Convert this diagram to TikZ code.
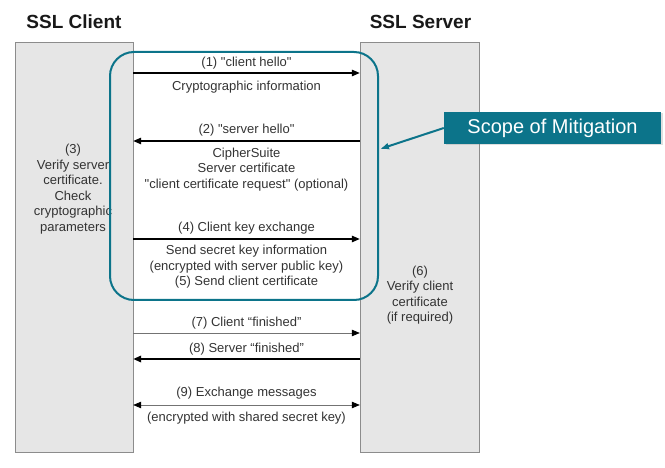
\documentclass[tikz,border=0pt]{standalone}
\usepackage{fontspec}
\setmainfont{Liberation Sans}
\usetikzlibrary{arrows.meta,positioning,calc,shadows}
\definecolor{mitteal}{RGB}{12,116,138}
\definecolor{lanegray}{RGB}{230,230,230}
\tikzset{
  lane/.style     ={draw=black!45,fill=lanegray,inner sep=0pt,minimum width=118pt,minimum height=410pt},
  title/.style    ={font=\fontsize{19}{22}\selectfont\bfseries,text=black!90},
  lbl/.style      ={font=\fontsize{13}{15.5}\selectfont,text=black!80,align=center,inner sep=0pt},
  msg/.style      ={-{Triangle[length=8pt,width=6.5pt]},line width=1.2pt},
  thinmsg/.style  ={-{Triangle[length=8pt,width=6.5pt,fill=black,color=black]},line width=0.7pt,draw=black!55},
  scopebox/.style ={draw=mitteal,line width=2pt,rounded corners=24pt,minimum width=268pt,minimum height=248pt},
  callout/.style  ={fill=mitteal,text=white,font=\fontsize{20}{24}\selectfont,minimum width=217pt,minimum height=32pt,
                    drop shadow={opacity=0.25,shadow xshift=1.5pt,shadow yshift=-1.5pt}},
  pointer/.style  ={-{Latex[length=9pt,width=7pt]},line width=2pt,draw=mitteal}
}
\begin{document}
\begin{tikzpicture}[x=1pt,y=-1pt]
  \useasboundingbox (0,0) rectangle (665,468);
  % lifelines
  \node[title] (ctitle) at (74,22)    {SSL Client};
  \node[title] (stitle) at (420.5,22) {SSL Server};
  \node[lane] (client) at (74,247) {};
  \node[lane,minimum width=119pt] (server) at (419.5,247) {};
  \node[lbl] (verifysrv) at (73,189)
    {(3)\\Verify server\\certificate.\\Check\\cryptographic\\parameters};
  \node[lbl] (verifycli) at (420,295)
    {(6)\\Verify client\\certificate\\(if required)};
  % message rows
  \foreach \n/\y in {1/73,2/141,4/239,7/333,8/359,9/405}
    \coordinate (r\n) at (0,\y);
  \node[lbl] (m1)  at (246.5,63)  {(1) \textquotedbl client hello\textquotedbl};
  \node[lbl] (m1b) at (246.5,87)  {Cryptographic information};
  \node[lbl] (m2)  at (246.5,130) {(2) \textquotedbl server hello\textquotedbl};
  \node[lbl] (m2b) at (246.5,169.5) {CipherSuite\\Server certificate\\\textquotedbl client certificate request\textquotedbl{} (optional)};
  \node[lbl] (m4)  at (246.5,228) {(4) Client key exchange};
  \node[lbl] (m4b) at (246.5,267) {Send secret key information\\(encrypted with server public key)\\(5) Send client certificate};
  \node[lbl] (m7)  at (246.5,323) {(7) Client “finished”};
  \node[lbl] (m8)  at (246.5,349) {(8) Server “finished”};
  \node[lbl] (m9)  at (246.5,393) {(9) Exchange messages};
  \node[lbl] (m9b) at (246.5,418) {(encrypted with shared secret key)};
  \draw[msg] (client.east |- r1) -- (server.west |- r1);
  \draw[msg] (server.west |- r2) -- (client.east |- r2);
  \draw[msg] (client.east |- r4) -- (server.west |- r4);
  \draw[thinmsg] (client.east |- r7) -- (server.west |- r7);
  \draw[msg,line width=1.8pt] (server.west |- r8) -- (client.east |- r8);
  \draw[thinmsg,{Triangle[length=8pt,width=6.5pt,fill=black,color=black]}-{Triangle[length=8pt,width=6.5pt,fill=black,color=black]}]
    (client.east |- r9) -- (server.west |- r9);
  % mitigation scope
  \node[scopebox] (scope) at (244,176) {};
  \node[callout] (mitig) at (552.5,128) {Scope of Mitigation};
  \coordinate (tip) at (380,149);
  \draw[pointer] (mitig.west) -- (tip);
\end{tikzpicture}
\end{document}
